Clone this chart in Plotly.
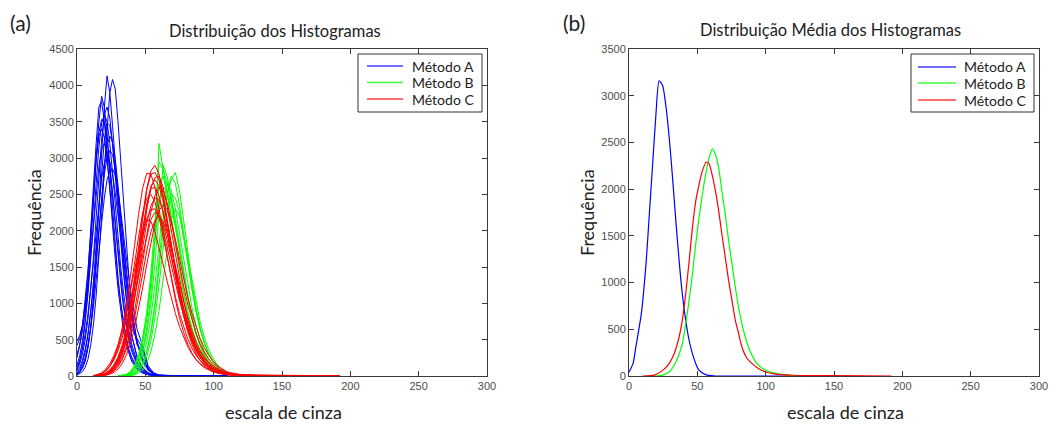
import plotly.graph_objects as go

# ---------------- data ----------------
X_TICKS = [0, 50, 100, 150, 200, 250, 300]
Y_TICKS_A = [0, 500, 1000, 1500, 2000, 2500, 3000, 3500, 4000, 4500]
Y_TICKS_B = [0, 500, 1000, 1500, 2000, 2500, 3000, 3500]

METHODS = ["Método A", "Método B", "Método C"]
COLORS = ["#0000ff", "#00ff00", "#ff0000"]

# panel (a): individual histograms
XA = [0, 2, 4, 6, 8, 10, 12, 14, 16, 18, 20, 22, 24, 26, 28, 30, 32, 34, 36, 38, 40,
      44, 48, 52, 56, 60, 80, 110]
CURVES_A = [
    [30, 60, 110, 200, 380, 650, 1050, 1600, 2300, 3050, 3700, 4130, 3900, 3450, 2950, 2450, 1950, 1500, 1100, 800, 560, 260, 110, 45, 15, 5, 0, 0],
    [10, 30, 60, 120, 230, 420, 700, 1100, 1600, 2200, 2850, 3450, 3900, 4080, 3950, 3500, 2950, 2400, 1850, 1350, 950, 450, 200, 80, 25, 8, 0, 0],
    [80, 200, 420, 750, 1200, 1750, 2400, 3000, 3500, 3850, 3700, 3300, 2800, 2300, 1800, 1350, 1000, 720, 500, 340, 230, 110, 50, 20, 8, 3, 0, 0],
    [420, 520, 700, 1000, 1400, 1950, 2600, 3200, 3700, 3780, 3500, 3050, 2550, 2050, 1600, 1200, 880, 620, 430, 300, 200, 90, 40, 15, 5, 2, 0, 0],
    [150, 280, 480, 760, 1120, 1560, 2080, 2650, 3150, 3480, 3600, 3500, 3200, 2800, 2350, 1900, 1500, 1150, 850, 620, 440, 200, 90, 35, 12, 4, 0, 0],
    [40, 90, 180, 330, 560, 880, 1300, 1800, 2350, 2850, 3250, 3480, 3450, 3200, 2850, 2450, 2050, 1650, 1300, 900, 650, 520, 380, 120, 30, 10, 0, 0],
    [250, 420, 680, 1020, 1450, 1950, 2500, 3000, 3300, 3400, 3280, 2980, 2580, 2150, 1720, 1330, 1000, 730, 520, 370, 260, 120, 55, 20, 7, 2, 0, 0],
    [20, 50, 110, 220, 400, 680, 1050, 1500, 2000, 2500, 2900, 3180, 3300, 3220, 2980, 2620, 2200, 1780, 1400, 1070, 800, 430, 330, 100, 30, 8, 0, 0],
    [300, 430, 620, 880, 1220, 1620, 2050, 2500, 2880, 3120, 3200, 3100, 2850, 2500, 2100, 1700, 1330, 1010, 750, 540, 380, 180, 80, 30, 10, 3, 0, 0],
    [60, 120, 220, 370, 580, 860, 1200, 1600, 2030, 2450, 2780, 3000, 3100, 3050, 2850, 2550, 2200, 1830, 1470, 1150, 880, 480, 230, 90, 30, 9, 0, 0],
    [120, 220, 370, 580, 850, 1180, 1560, 1970, 2380, 2720, 2930, 3000, 2950, 2780, 2520, 2200, 1870, 1550, 1250, 990, 770, 450, 250, 110, 40, 12, 0, 0],
    [30, 70, 140, 250, 420, 650, 950, 1300, 1700, 2100, 2450, 2700, 2820, 2850, 2760, 2560, 2280, 1960, 1640, 1340, 1070, 640, 420, 140, 45, 12, 0, 0],
    [480, 560, 700, 950, 1300, 1800, 2400, 2950, 3350, 3530, 3500, 3300, 2950, 2520, 2080, 1660, 1280, 950, 690, 490, 340, 150, 65, 25, 8, 2, 0, 0],
    [90, 170, 300, 500, 780, 1150, 1620, 2180, 2750, 3250, 3600, 3700, 3550, 3200, 2750, 2280, 1830, 1420, 1070, 780, 560, 260, 120, 45, 15, 5, 0, 0],
]

XB = [30, 33, 36, 39, 42, 45, 48, 51, 54, 57, 60, 63, 66, 69, 72, 75, 78, 81, 84, 87,
      90, 93, 96, 99, 102, 105, 108, 114, 120, 130]
CURVES_B = [
    [0, 5, 15, 40, 90, 180, 350, 650, 1100, 1900, 3200, 2850, 2650, 2450, 2150, 1800, 1450, 1120, 840, 610, 430, 300, 200, 130, 85, 55, 35, 14, 5, 0],
    [0, 0, 5, 15, 40, 90, 180, 340, 600, 1000, 1550, 2150, 2500, 2700, 2800, 2550, 2150, 1700, 1300, 950, 680, 470, 320, 210, 135, 85, 50, 20, 8, 0],
    [0, 5, 20, 55, 130, 270, 500, 850, 1400, 2100, 2950, 2850, 2550, 2200, 1850, 1500, 1180, 900, 670, 490, 350, 245, 170, 115, 75, 48, 30, 12, 4, 0],
    [0, 0, 5, 12, 35, 80, 170, 330, 580, 950, 1450, 2000, 2500, 2750, 2650, 2350, 1950, 1550, 1200, 900, 650, 460, 320, 215, 140, 90, 55, 22, 8, 0],
    [0, 3, 10, 30, 75, 160, 320, 580, 980, 1550, 2250, 2900, 2750, 2450, 2100, 1750, 1400, 1080, 810, 590, 420, 290, 195, 130, 85, 55, 35, 14, 5, 0],
    [0, 2, 8, 25, 60, 130, 260, 470, 800, 1250, 1800, 2350, 2650, 2550, 2300, 1950, 1600, 1250, 950, 700, 500, 350, 240, 160, 105, 68, 42, 17, 6, 0],
    [0, 5, 20, 60, 140, 290, 520, 860, 1300, 1850, 2400, 2600, 2550, 2350, 2050, 1720, 1380, 1070, 800, 590, 420, 295, 205, 140, 92, 60, 38, 15, 5, 0],
    [0, 4, 15, 45, 110, 230, 440, 770, 1250, 1900, 2600, 2750, 2500, 2150, 1800, 1450, 1130, 850, 620, 450, 320, 225, 155, 105, 70, 45, 28, 11, 4, 0],
    [0, 0, 3, 10, 28, 65, 140, 270, 480, 800, 1250, 1750, 2250, 2500, 2450, 2250, 1950, 1620, 1300, 1000, 750, 540, 380, 260, 170, 110, 70, 28, 10, 0],
    [0, 0, 0, 5, 15, 40, 90, 180, 330, 570, 900, 1320, 1780, 2150, 2300, 2200, 1900, 1550, 1200, 900, 650, 460, 320, 215, 140, 90, 55, 22, 8, 0],
]

XC = [12, 15, 18, 21, 24, 27, 30, 33, 36, 39, 42, 45, 48, 51, 54, 57, 60, 63, 66, 69,
      72, 75, 78, 81, 84, 87, 90, 93, 96, 99, 104, 110, 118, 130, 150, 192]
CURVES_C = [
    [0, 5, 15, 35, 70, 130, 230, 380, 600, 900, 1300, 1750, 2200, 2580, 2820, 2900, 2780, 2500, 2150, 1780, 1420, 1100, 830, 610, 440, 310, 215, 150, 105, 72, 40, 18, 8, 4, 2, 0],
    [2, 10, 30, 70, 140, 250, 420, 650, 950, 1330, 1780, 2220, 2580, 2790, 2780, 2600, 2320, 1990, 1650, 1330, 1050, 800, 600, 440, 320, 230, 165, 118, 84, 60, 34, 16, 7, 3, 1, 0],
    [0, 2, 8, 20, 45, 90, 170, 290, 470, 720, 1050, 1450, 1880, 2280, 2580, 2730, 2750, 2600, 2330, 2000, 1650, 1320, 1030, 780, 580, 420, 300, 210, 148, 103, 58, 26, 12, 5, 2, 0],
    [0, 4, 12, 30, 65, 125, 220, 370, 580, 860, 1200, 1600, 2000, 2350, 2570, 2600, 2480, 2250, 1960, 1650, 1350, 1070, 830, 630, 470, 345, 250, 180, 128, 90, 50, 22, 10, 5, 2, 0],
    [0, 3, 10, 25, 55, 105, 190, 320, 500, 740, 1040, 1390, 1760, 2100, 2340, 2450, 2420, 2270, 2030, 1750, 1460, 1180, 930, 710, 530, 390, 285, 205, 147, 104, 58, 26, 12, 5, 2, 0],
    [5, 15, 35, 70, 130, 220, 350, 520, 740, 1000, 1300, 1620, 1920, 2160, 2290, 2300, 2200, 2010, 1780, 1530, 1280, 1040, 830, 650, 500, 380, 290, 220, 165, 125, 75, 40, 20, 12, 8, 4],
    [0, 2, 6, 15, 35, 70, 130, 220, 360, 550, 790, 1080, 1400, 1720, 1980, 2140, 2200, 2130, 1960, 1740, 1500, 1250, 1020, 810, 630, 480, 360, 265, 195, 142, 80, 36, 16, 7, 3, 0],
    [5, 18, 45, 95, 170, 280, 430, 630, 880, 1170, 1480, 1780, 2020, 2150, 2130, 1990, 1780, 1540, 1300, 1070, 860, 680, 530, 405, 305, 228, 170, 126, 93, 68, 38, 17, 8, 4, 2, 0],
    [0, 3, 10, 25, 55, 110, 200, 340, 540, 810, 1150, 1550, 1980, 2350, 2610, 2700, 2620, 2400, 2100, 1770, 1450, 1150, 890, 670, 500, 365, 265, 190, 135, 96, 53, 24, 11, 5, 2, 0],
    [0, 0, 4, 10, 25, 50, 95, 170, 280, 440, 650, 910, 1210, 1530, 1840, 2100, 2280, 2350, 2290, 2120, 1880, 1610, 1340, 1090, 870, 680, 520, 395, 295, 218, 125, 56, 25, 11, 5, 0],
    [3, 12, 32, 70, 135, 235, 380, 580, 840, 1160, 1530, 1910, 2240, 2450, 2500, 2400, 2190, 1920, 1630, 1350, 1090, 860, 670, 510, 385, 288, 214, 158, 116, 85, 47, 21, 10, 5, 2, 0],
    [0, 5, 15, 38, 80, 150, 260, 420, 640, 930, 1290, 1700, 2150, 2550, 2780, 2800, 2700, 2450, 2130, 1800, 1480, 1190, 930, 710, 530, 390, 285, 205, 148, 106, 60, 27, 12, 6, 3, 0],
    [0, 6, 18, 42, 85, 150, 250, 385, 560, 790, 1060, 1360, 1660, 1930, 2150, 2250, 2220, 2080, 1870, 1620, 1370, 1130, 910, 720, 560, 430, 330, 250, 190, 143, 85, 42, 20, 10, 5, 2],
    [0, 2, 6, 16, 38, 78, 145, 250, 400, 610, 880, 1200, 1560, 1930, 2250, 2480, 2600, 2560, 2380, 2120, 1820, 1520, 1240, 990, 770, 590, 445, 330, 243, 178, 100, 45, 20, 9, 4, 0],
]

# panel (b): mean histograms
MEAN_A_X = [0, 3, 5, 9, 12.6, 15, 17.4, 19.8, 22, 24.6, 27, 29.5, 31.9, 34.3, 36.7, 39, 41.5,
            44, 46.4, 48.8, 51, 56, 63, 80, 116]
MEAN_A_Y = [40, 135, 310, 665, 1230, 1760, 2290, 2820, 3160, 3110, 2890, 2540, 2115, 1655, 1230,
            880, 595, 380, 240, 135, 65, 15, 0, 0, 0]
MEAN_B_X = [19, 24.6, 29.5, 34.3, 39, 41.5, 44, 46.4, 48.8, 51.2, 53.6, 56, 58.5, 61, 63.3, 65.7,
            68, 70.5, 72.9, 75.4, 77.8, 80.2, 82.6, 85, 87.4, 89.9, 93.5, 99.5, 106.8, 114, 128]
MEAN_B_Y = [0, 10, 45, 150, 345, 560, 810, 1090, 1410, 1690, 1940, 2150, 2330, 2430, 2365, 2220,
            1975, 1725, 1445, 1195, 950, 735, 560, 420, 310, 225, 135, 65, 30, 12, 0]
MEAN_C_X = [10, 18.6, 24.6, 29.5, 33.1, 36.7, 39, 41.5, 44, 46.4, 48.8, 51.2, 53.6, 56.5, 58.5,
            60.9, 63.3, 65.7, 68, 70.5, 72.9, 75.4, 77.8, 80.2, 82.6, 86.3, 89.9, 94.7, 99.5,
            106.8, 120, 150, 192]
MEAN_C_Y = [0, 10, 60, 135, 240, 420, 595, 880, 1230, 1585, 1870, 2045, 2190, 2290, 2275, 2150,
            1975, 1760, 1515, 1265, 1020, 805, 595, 455, 310, 190, 135, 80, 45, 20, 8, 4, 0]

# ---------------- figure ----------------
W, H = 1059, 424
fig = go.Figure()

groups_a = [(XA, CURVES_A), (XB, CURVES_B), (XC, CURVES_C)]
for k, (xs, curves) in enumerate(groups_a):
    for j, ys in enumerate(curves):
        fig.add_trace(go.Scatter(
            x=xs, y=ys, mode="lines", xaxis="x", yaxis="y",
            line=dict(color=COLORS[k], width=1),
            name=METHODS[k], showlegend=False))

means = [(MEAN_A_X, MEAN_A_Y), (MEAN_B_X, MEAN_B_Y), (MEAN_C_X, MEAN_C_Y)]
for k, (xs, ys) in enumerate(means):
    fig.add_trace(go.Scatter(
        x=xs, y=ys, mode="lines", xaxis="x2", yaxis="y2",
        line=dict(color=COLORS[k], width=1.2, shape="spline", smoothing=0.6),
        name=METHODS[k], showlegend=False))

def px(x):
    return x / W

def py(y):
    return 1 - y / H

AX_TOP, AX_BOT = 49, 376
LA, RA = 77, 487
LB, RB = 629, 1039

axis_common = dict(
    showline=True, linecolor="#3a3a3a", linewidth=1, mirror="ticks",
    ticks="inside", ticklen=5, tickcolor="#3a3a3a", showgrid=False, zeroline=False,
    automargin=False,
    tickfont=dict(family="Liberation Sans, Arial", size=11, color="#4d4d4d"),
)

fig.update_layout(
    template="none",
    width=W, height=H, margin=dict(l=0, r=0, t=0, b=0, pad=0), autosize=False,
    paper_bgcolor="white", plot_bgcolor="white", showlegend=False,
    xaxis=dict(domain=[px(LA), px(RA)], range=[0, 300], tickvals=X_TICKS, anchor="y", **axis_common),
    yaxis=dict(domain=[py(AX_BOT), py(AX_TOP)], range=[0, 4500], tickvals=Y_TICKS_A, anchor="x", **axis_common),
    xaxis2=dict(domain=[px(LB), px(RB)], range=[0, 300], tickvals=X_TICKS, anchor="y2", **axis_common),
    yaxis2=dict(domain=[py(AX_BOT), py(AX_TOP)], range=[0, 3500], tickvals=Y_TICKS_B, anchor="x2", **axis_common),
)

# legend boxes (drawn as shapes + text, MATLAB style)
shapes = []
ann = []
legend_boxes = [
    # box x0, x1, y0, y1, line x0, line x1, text x, entry y centres
    (358, 482, 54, 112, 367, 403, 410, [66, 82.5, 99]),
    (911, 1034, 54, 112, 918, 956, 962, [67, 83, 100]),
]
for (bx0, bx1, by0, by1, lx0, lx1, tx, ys) in legend_boxes:
    shapes.append(dict(type="rect", xref="paper", yref="paper",
                       x0=px(bx0), x1=px(bx1), y0=py(by1), y1=py(by0),
                       fillcolor="white", line=dict(color="#333333", width=1), layer="above"))
    for k, yy in enumerate(ys):
        shapes.append(dict(type="line", xref="paper", yref="paper",
                           x0=px(lx0), x1=px(lx1), y0=py(yy), y1=py(yy),
                           line=dict(color=COLORS[k], width=1.5), opacity=0.75, layer="above"))
        ann.append(dict(text=METHODS[k], x=px(tx), y=py(yy), xanchor="left", yanchor="middle",
                        font=dict(family="Lato", size=14, color="#222222")))

label_font = dict(family="Lato", size=18, color="#222222")
ann += [
    dict(text="(a)", x=px(8), y=py(22), xanchor="left", yanchor="middle",
         font=dict(family="Lato", size=21, color="#222222")),
    dict(text="(b)", x=px(561), y=py(22), xanchor="left", yanchor="middle",
         font=dict(family="Lato", size=21, color="#222222")),
    dict(text="Distribuição dos Histogramas", x=px(275), y=py(31),
         xanchor="center", yanchor="middle", font=dict(family="Lato", size=16.5, color="#222222")),
    dict(text="Distribuição Média dos Histogramas", x=px(830), y=py(30),
         xanchor="center", yanchor="middle", font=dict(family="Lato", size=16.5, color="#222222")),
    dict(text="escala de cinza", x=px(283), y=py(412), xanchor="center", yanchor="middle", font=label_font),
    dict(text="escala de cinza", x=px(845), y=py(412), xanchor="center", yanchor="middle", font=label_font),
    dict(text="Frequência", x=px(34), y=py(213), xanchor="center", yanchor="middle",
         textangle=-90, font=label_font),
    dict(text="Frequência", x=px(587), y=py(213), xanchor="center", yanchor="middle",
         textangle=-90, font=label_font),
]
for a in ann:
    a.update(xref="paper", yref="paper", showarrow=False)
fig.update_layout(annotations=ann, shapes=shapes)

fig.write_html("out.html", config={"displayModeBar": False},
               post_script="document.body.style.margin='0px';document.body.style.overflow='hidden';")
